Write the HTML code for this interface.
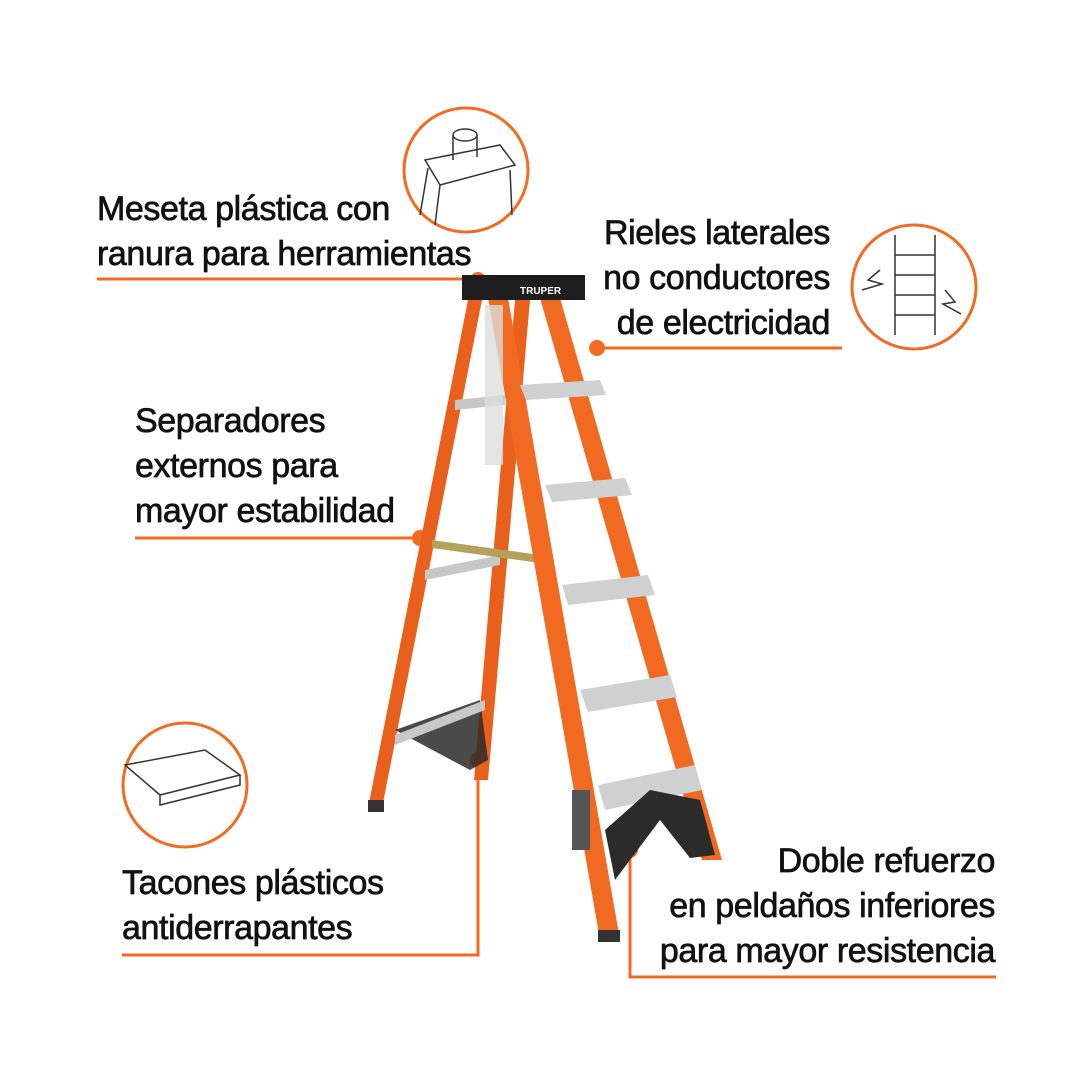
<!DOCTYPE html>
<html><head><meta charset="utf-8"><style>
html,body{margin:0;padding:0;background:#fff}
.wrap{position:relative;width:1080px;height:1080px;overflow:hidden;font-family:"Liberation Sans",sans-serif}
.t{position:absolute;font-size:34px;color:#111;line-height:45px;letter-spacing:-0.4px;-webkit-text-stroke:0.7px #111;white-space:nowrap}
.l{}
.r{text-align:right}
</style></head><body><div class="wrap">
<svg width="1080" height="1080" style="position:absolute;left:0;top:0">
<g stroke="#f26b21" stroke-width="3" fill="none">
<circle cx="466" cy="170" r="62"/>
<circle cx="914" cy="287" r="62"/>
<circle cx="185" cy="785" r="62"/>
<polyline points="97,279 478,279"/>
<polyline points="597,348 842,348"/>
<polyline points="135,538 420,538"/>
<polyline points="122,955 478,955 478,760"/>
<polyline points="630,850 630,977 996,977"/>
</g>
<g fill="#f26b21">
<circle cx="478" cy="280" r="8"/><circle cx="597" cy="348" r="8"/>
<circle cx="420" cy="538" r="8"/><circle cx="478" cy="760" r="8"/>
<circle cx="630" cy="850" r="8"/>
</g>
<g stroke="#333" stroke-width="1.5" fill="none">
<path d="M425 160 L500 145 L515 165 L440 185 Z M440 185 L435 225 M510 170 L512 215 M428 168 L420 215"/>
<ellipse cx="465" cy="135" rx="12" ry="6"/><path d="M453 135 v25 M477 135 v22"/>
<path d="M895 235 v100 M935 235 v100 M895 255 h40 M895 275 h40 M895 295 h40 M895 315 h40"/>
<path d="M880 270 l-12 10 l14 4 l-20 6 M945 290 l10 12 l-12 2 l18 10"/>
<path d="M125 765 l80 -15 l35 25 l-80 20 z M160 795 l0 10 l80 -20 l0 -10"/>
</g>
<polygon points="468,300 482,300 382,808 368,808" fill="#e8601c"/>
<polygon points="515,300 530,300 488,780 474,780" fill="#e8601c"/>
<rect x="368" y="800" width="16" height="12" fill="#333"/>
<polygon points="395,730 480,700 488,760 470,770" fill="#2a2a2a" opacity="0.85"/>
<g fill="#c8c8c8">
<polygon points="455,400 505,395 505,405 455,410"/>
<polygon points="425,570 500,555 500,565 425,580"/>
<polygon points="395,735 485,700 485,710 395,745"/>
</g>
<polygon points="432,540 540,555 540,563 432,548" fill="#b5a25a"/>
<polygon points="488,298 508,298 620,940 600,940" fill="#f06a22"/>
<polygon points="540,298 560,298 722,860 702,860" fill="#f06a22"/>
<g fill="#cfd0d0">
<polygon points="520,385 600,380 606,395 526,400"/>
<polygon points="545,485 625,478 632,495 552,502"/>
<polygon points="562,585 648,575 655,595 568,605"/>
<polygon points="580,690 670,675 677,697 588,712"/>
<polygon points="598,785 695,765 702,790 605,810"/>
</g>
<polygon points="605,830 650,790 700,800 715,855 690,858 660,820 615,880" fill="#2b2b2b"/>
<rect x="598" y="930" width="22" height="12" fill="#333"/>
<rect x="572" y="790" width="18" height="60" fill="#555"/>
<polygon points="462,275 585,275 585,300 462,300" fill="#1e1e1e"/>
<text x="520" y="294" font-size="10" fill="#fff" font-family="Liberation Sans" font-weight="bold">TRUPER</text>
<rect x="485" y="305" width="18" height="160" fill="#ddd" opacity="0.8"/>
</svg>
<div class="t l" style="left:97px;top:187px">Meseta plástica con<br>ranura para herramientas</div>
<div class="t r" style="right:250px;top:211px">Rieles laterales<br>no conductores<br>de electricidad</div>
<div class="t l" style="left:135px;top:399px">Separadores<br>externos para<br>mayor estabilidad</div>
<div class="t l" style="left:122px;top:861px">Tacones plásticos<br>antiderrapantes</div>
<div class="t r" style="right:85px;top:839px">Doble refuerzo<br>en peldaños inferiores<br>para mayor resistencia</div>
</div></body></html>
